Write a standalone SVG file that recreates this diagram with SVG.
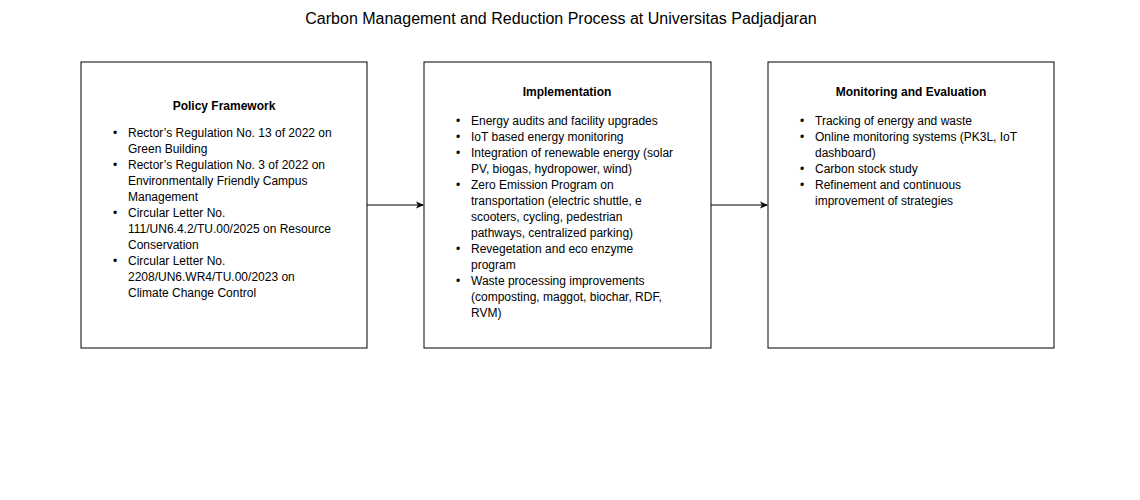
<svg xmlns="http://www.w3.org/2000/svg" width="1140" height="500" viewBox="0 0 1140 500">
<style>
text{font-family:"Liberation Sans",Arial,sans-serif;font-size:12px;fill:#000}
.t{font-size:16px}
.h{font-weight:bold;text-anchor:middle}
rect{fill:#fff;stroke:#000;stroke-width:1}
line{stroke:#000;stroke-width:1}
</style>
<defs><marker id="a" markerWidth="8" markerHeight="8" refX="7" refY="4" orient="auto" markerUnits="userSpaceOnUse"><path d="M0,0.5L8,4L0,7.5L2,4Z" fill="#000"/></marker></defs>
<rect x="0" y="0" width="1140" height="500" style="stroke:none"/>
<text class="t" x="561" y="24" text-anchor="middle">Carbon Management and Reduction Process at Universitas Padjadjaran</text>
<g id="connectors">
<line x1="367" y1="205" x2="423" y2="205" marker-end="url(#a)"/>
<line x1="711" y1="205" x2="767" y2="205" marker-end="url(#a)"/>
</g>
<g id="policy">
<rect x="81" y="62" width="286" height="286"/>
<text class="h" x="224" y="110">Policy Framework</text>
<g>
<text x="113" y="137">•</text><text x="128" y="137">Rector’s Regulation No. 13 of 2022 on</text>
<text x="128" y="153">Green Building</text>
<text x="113" y="169">•</text><text x="128" y="169">Rector’s Regulation No. 3 of 2022 on</text>
<text x="128" y="185">Environmentally Friendly Campus</text>
<text x="128" y="201">Management</text>
<text x="113" y="217">•</text><text x="128" y="217">Circular Letter No.</text>
<text x="128" y="233">111/UN6.4.2/TU.00/2025 on Resource</text>
<text x="128" y="249">Conservation</text>
<text x="113" y="265">•</text><text x="128" y="265">Circular Letter No.</text>
<text x="128" y="281">2208/UN6.WR4/TU.00/2023 on</text>
<text x="128" y="297">Climate Change Control</text>
</g>
</g>
<g id="implementation">
<rect x="424" y="62" width="287" height="286"/>
<text class="h" x="567" y="96">Implementation</text>
<text x="456" y="125">•</text><text x="471" y="125">Energy audits and facility upgrades</text>
<text x="456" y="141">•</text><text x="471" y="141">IoT based energy monitoring</text>
<text x="456" y="157">•</text><text x="471" y="157">Integration of renewable energy (solar</text>
<text x="471" y="173">PV, biogas, hydropower, wind)</text>
<text x="456" y="189">•</text><text x="471" y="189">Zero Emission Program on</text>
<text x="471" y="205">transportation (electric shuttle, e</text>
<text x="471" y="221">scooters, cycling, pedestrian</text>
<text x="471" y="237">pathways, centralized parking)</text>
<text x="456" y="253">•</text><text x="471" y="253">Revegetation and eco enzyme</text>
<text x="471" y="269">program</text>
<text x="456" y="285">•</text><text x="471" y="285">Waste processing improvements</text>
<text x="471" y="301">(composting, maggot, biochar, RDF,</text>
<text x="471" y="317">RVM)</text>
</g>
<g id="monitoring">
<rect x="768" y="62" width="286" height="286"/>
<text class="h" x="911" y="96">Monitoring and Evaluation</text>
<text x="800" y="125">•</text><text x="815" y="125">Tracking of energy and waste</text>
<text x="800" y="141">•</text><text x="815" y="141">Online monitoring systems (PK3L, IoT</text>
<text x="815" y="157">dashboard)</text>
<text x="800" y="173">•</text><text x="815" y="173">Carbon stock study</text>
<text x="800" y="189">•</text><text x="815" y="189">Refinement and continuous</text>
<text x="815" y="205">improvement of strategies</text>
</g>
</svg>
